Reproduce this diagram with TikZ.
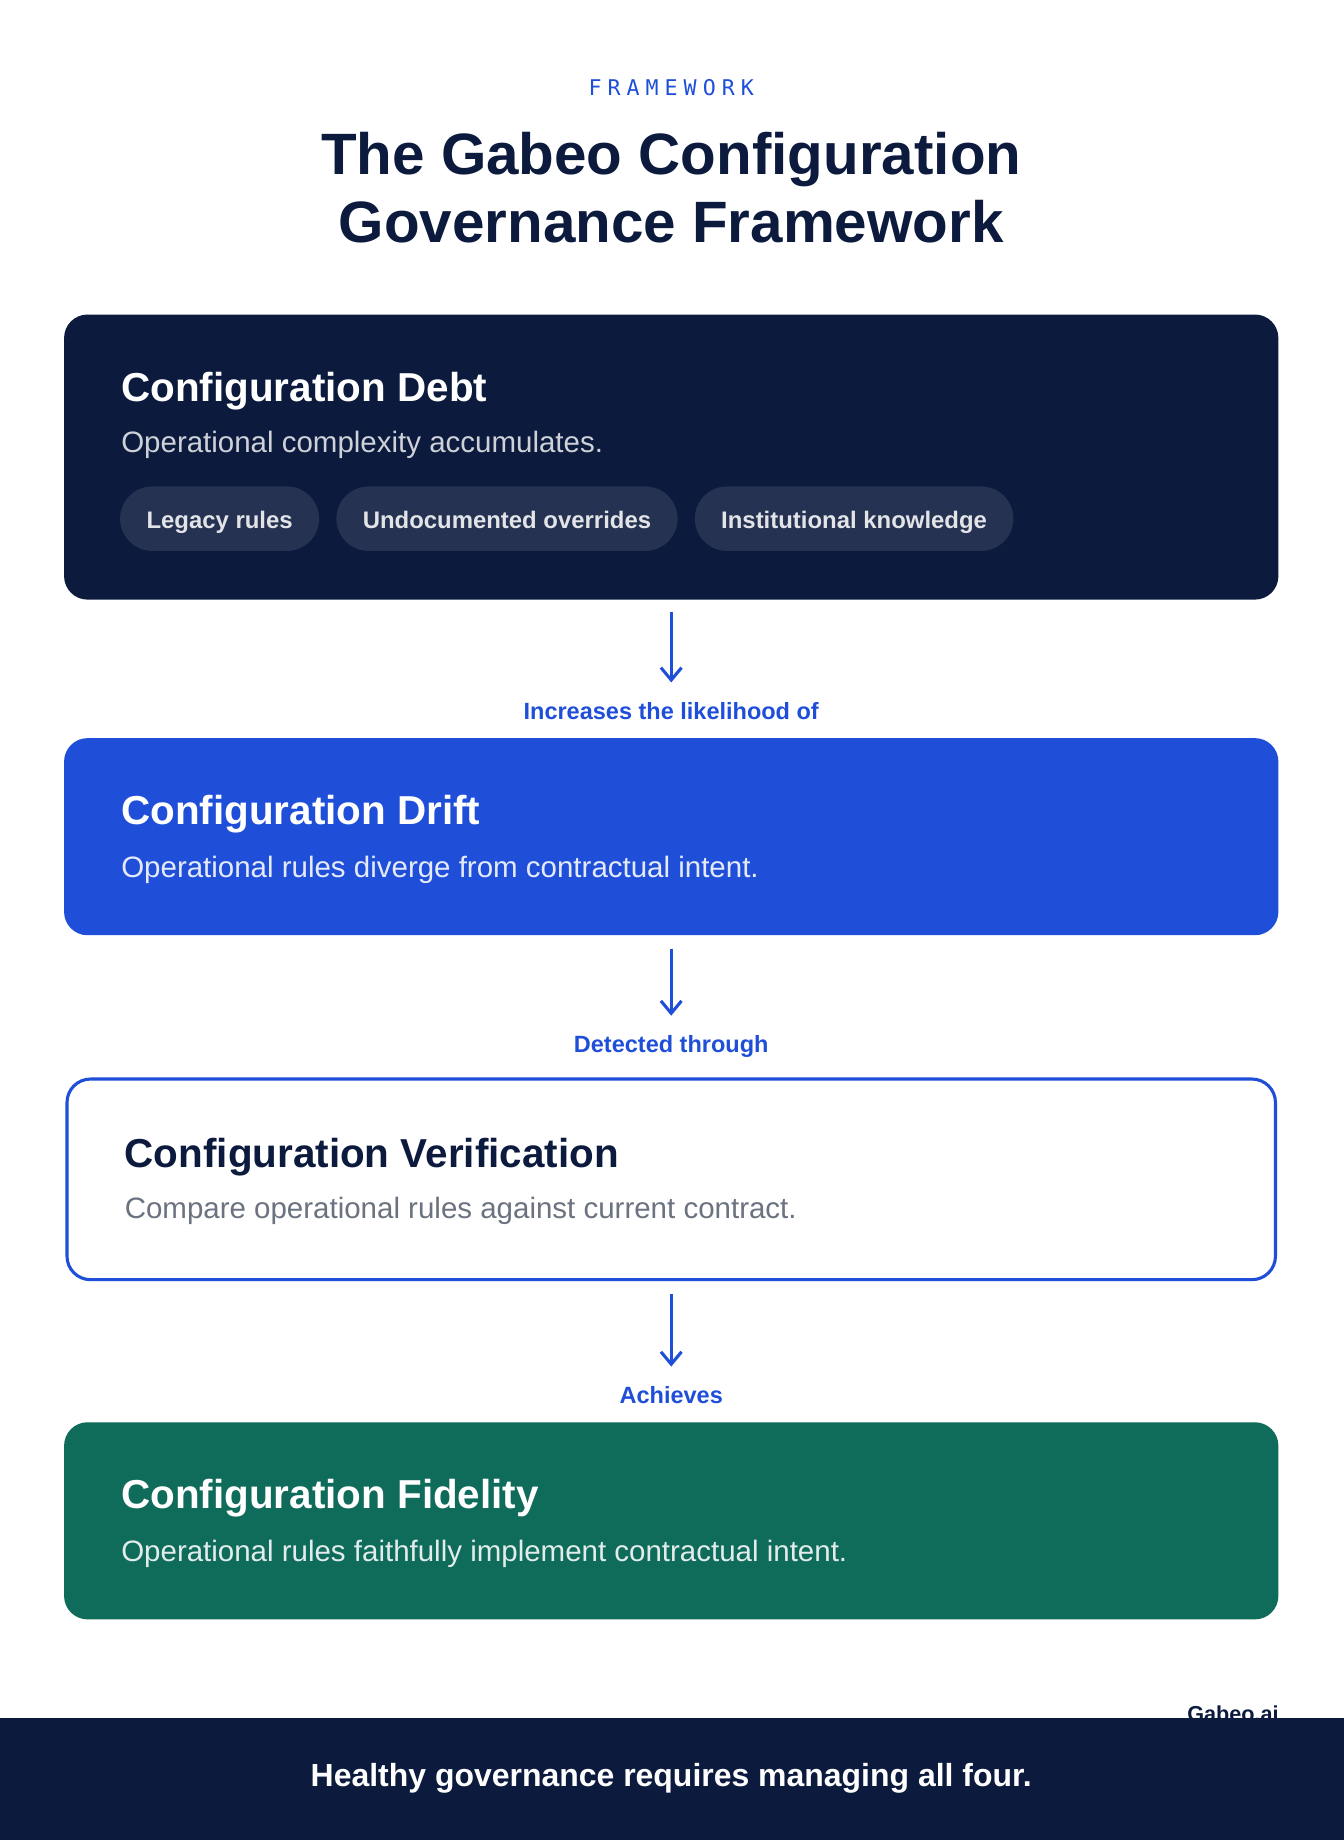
\documentclass[tikz,border=0pt]{standalone}
\usepackage{fontspec}
\setmainfont{Liberation Sans}
\setmonofont{DejaVu Sans Mono}
\usetikzlibrary{arrows.meta,positioning}
\definecolor{gnavy}{HTML}{0C1B3D}
\definecolor{gblue}{HTML}{1F4FD8}
\definecolor{ggreen}{HTML}{0F6B5A}
\definecolor{gchip}{HTML}{253252}
\definecolor{ggray}{HTML}{6B7280}
\begin{document}
\begin{tikzpicture}[x=0.02cm,y=-0.02cm,
        panel/.style={rectangle, rounded corners=0.4cm, minimum width=20.7cm, inner sep=0pt},
        head/.style={anchor=west, font=\bfseries\fontsize{19.6}{23}\selectfont, inner sep=0pt},
        sub/.style={anchor=west, font=\fontsize{14.3}{17}\selectfont, inner sep=0pt},
        chip/.style={rectangle, rounded corners=0.55cm, fill=gchip, text=white!88!gnavy, font=\bfseries\fontsize{11.6}{13}\selectfont, minimum height=1.1cm, text height=10.5pt, text depth=1pt, inner xsep=0.45cm},
        link/.style={font=\bfseries\fontsize{11.4}{13}\selectfont, text=gblue, inner sep=1pt},
        arrow/.style={-{Straight Barb[length=6pt,width=10pt]}, gblue, line width=1.5pt}
    ]
        \useasboundingbox (0,0) rectangle (1145,1568);
        \fill[white] (0,0) rectangle (1145,1568);
        % header
        \node[font=\ttfamily\fontsize{10.5}{12}\selectfont, text=gblue] (kicker) at (572,75) {F\;R\;A\;M\;E\;W\;O\;R\;K};
        \node[font=\bfseries\fontsize{28.3}{33}\selectfont, text=gnavy, align=center] (title) at (572,160) {The Gabeo Configuration\\Governance Framework};
        % panels
        \node[panel, fill=gnavy, minimum height=4.86cm] (debt) at (572,389.5) {};
        \node[head, text=white] (debthead) at (103,333) {Configuration Debt};
        \node[sub, text=white!80!gnavy] (debtsub) at (103,379) {Operational complexity accumulates.};
        \node[chip, anchor=west] (legacy) at (102,442) {Legacy rules};
        \node[chip, right=0.28cm of legacy] (undoc) {Undocumented overrides};
        \node[chip, right=0.28cm of undoc] (inst) {Institutional knowledge};

        \node[panel, fill=gblue, minimum height=3.36cm] (drift) at (572,713) {};
        \node[head, text=white] (drifthead) at (103,694) {Configuration Drift};
        \node[sub, text=white!88!gblue] (driftsub) at (103,741) {Operational rules diverge from contractual intent.};

        \node[panel, fill=white, draw=gblue, line width=1.5pt, minimum width=20.6cm, minimum height=3.42cm] (verif) at (572,1005) {};
        \node[head, text=gnavy] (verifhead) at (106,986) {Configuration Verification};
        \node[sub, text=ggray] (verifsub) at (106,1032) {Compare operational rules against current contract.};

        \node[panel, fill=ggreen, minimum height=3.36cm] (fid) at (572,1296) {};
        \node[head, text=white] (fidhead) at (103,1277) {Configuration Fidelity};
        \node[sub, text=white!88!ggreen] (fidsub) at (103,1324) {Operational rules faithfully implement contractual intent.};

        % connectors
        \node[link] (l1) at (572,606) {Increases the likelihood of};
        \node[link] (l2) at (572,892) {Detected through};
        \node[link] (l3) at (572,1189) {Achieves};
        \draw[arrow, shorten <=0.2cm, shorten >=0.3cm] (debt.south) -- (l1.north);
        \draw[arrow, shorten <=0.22cm, shorten >=0.3cm] (drift.south) -- (l2.north);
        \draw[arrow, shorten <=0.22cm, shorten >=0.3cm] (verif.south) -- (l3.north);

        % footer
        \node[anchor=east, font=\bfseries\fontsize{10.5}{12}\selectfont, text=gnavy, inner sep=0pt] (brand) at (1090,1460) {Gabeo\textcolor{gblue}{.}ai};
        \fill[gnavy] (0,1464) rectangle (1145,1568);
        \node[font=\bfseries\fontsize{15.5}{18}\selectfont, text=white] (foot) at (572,1515) {Healthy governance requires managing all four.};
    \end{tikzpicture}
\end{document}
